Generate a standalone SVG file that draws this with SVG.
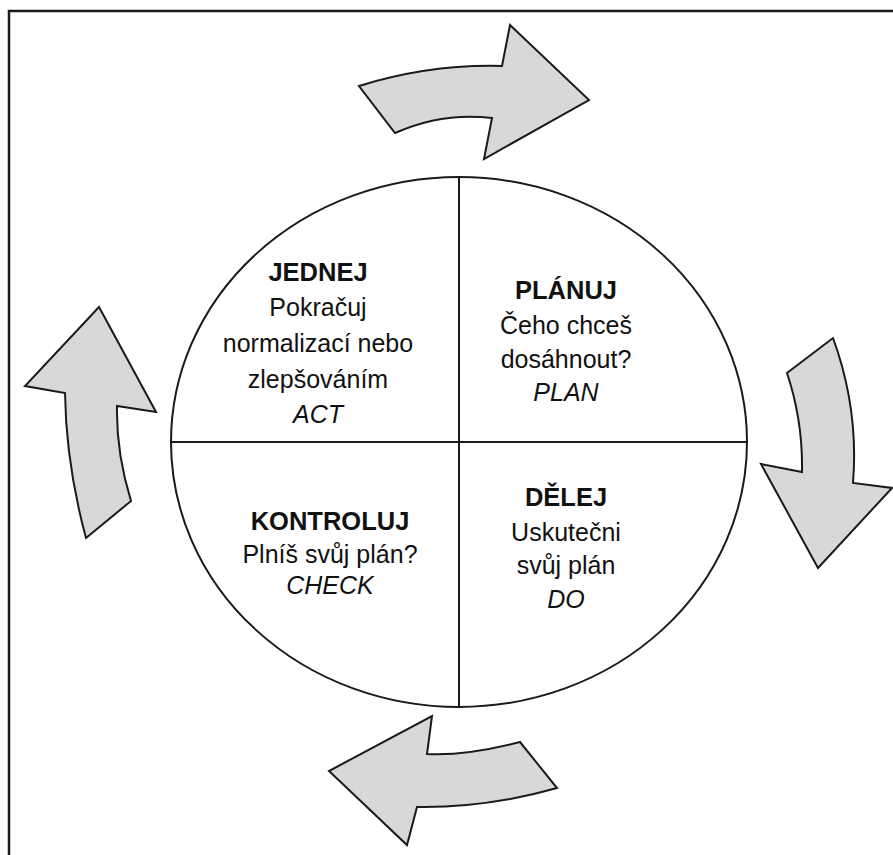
<svg xmlns="http://www.w3.org/2000/svg" width="893" height="855" viewBox="0 0 893 855">
  <style>
    .frame { fill: none; stroke: #1a1a1a; stroke-width: 2.5; }
    .line { fill: none; stroke: #1a1a1a; stroke-width: 2; }
    .arrow { fill: #d8d8d8; stroke: #1a1a1a; stroke-width: 2; stroke-linejoin: miter; }
    text { font-family: "Liberation Sans", Arial, sans-serif; font-size: 25px; fill: #111; text-anchor: middle; }
    .head { font-weight: bold; font-size: 25.5px; }
    .en { font-style: italic; }
  </style>
  <rect width="893" height="855" fill="#ffffff"/>
  <!-- outer frame, open to the right and bottom -->
  <rect class="frame" x="9" y="11" width="950" height="950"/>

  <!-- circle split into four quadrants -->
  <g id="cycle">
    <ellipse class="line" cx="459" cy="442" rx="288" ry="265"/>
    <line class="line" x1="459" y1="177" x2="459" y2="707"/>
    <line class="line" x1="171" y1="442" x2="747" y2="442"/>
  </g>

  <g id="act">
    <text class="head" x="318" y="281">JEDNEJ</text>
    <text x="318" y="316">Pokračuj</text>
    <text x="318" y="352">normalizací nebo</text>
    <text x="318" y="388">zlepšováním</text>
    <text class="en" x="318" y="423">ACT</text>
  </g>

  <g id="plan">
    <text class="head" x="566" y="299">PLÁNUJ</text>
    <text x="566" y="334">Čeho chceš</text>
    <text x="566" y="368">dosáhnout?</text>
    <text class="en" x="566" y="401">PLAN</text>
  </g>

  <g id="check">
    <text class="head" x="330" y="530">KONTROLUJ</text>
    <text x="330" y="563">Plníš svůj plán?</text>
    <text class="en" x="330" y="594">CHECK</text>
  </g>

  <g id="do">
    <text class="head" x="566" y="506">DĚLEJ</text>
    <text x="566" y="541">Uskutečni</text>
    <text x="566" y="574">svůj plán</text>
    <text class="en" x="566" y="608">DO</text>
  </g>

  <!-- curved block arrows around the circle -->
  <g id="connectors">
    <path class="arrow" d="M359,86 Q430,64 502,66 L510,25 L589,100 L484,159 L492,118 Q442,112 395,133 Z"/>
    <path class="arrow" d="M787,373 L833,338 Q859,409 853,483 L892,488 L818,568 L761,464 L802,472 Q803,421 787,373 Z"/>
    <path class="arrow" d="M520,742 Q466,756 427,754 L432,716 L329,771 L407,845 L417,807 Q487,808 557,788 Z"/>
    <path class="arrow" d="M86,538 L131,501 Q116,452 117,406 L156,412 L99,307 L25,386 L65,393 Q66,464 86,538 Z"/>
  </g>
</svg>
